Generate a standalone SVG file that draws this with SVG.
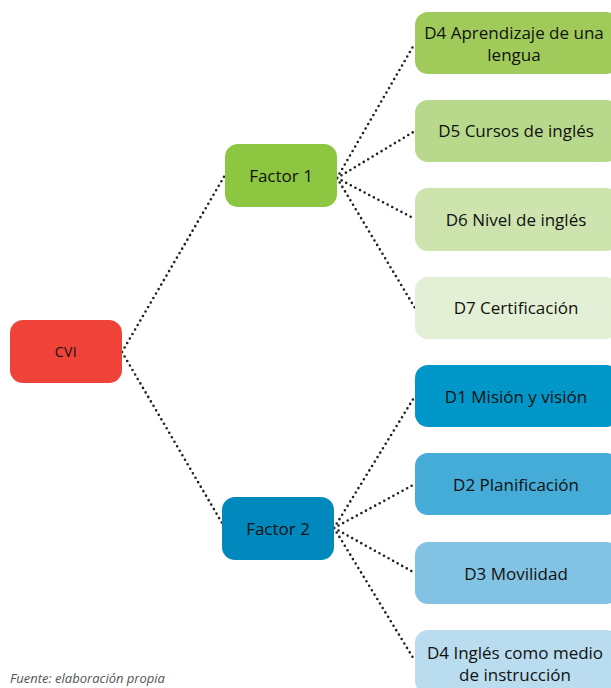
<svg xmlns="http://www.w3.org/2000/svg" width="611" height="688" viewBox="0 0 611 688">
<style>
.t{font-family:"Open Sans","Noto Sans","Liberation Sans",sans-serif;font-size:17px;fill:#111;text-anchor:middle}
.c{fill:none;stroke:#231f20;stroke-width:2.6;stroke-linecap:round;stroke-dasharray:0 5.2}
</style>
<rect width="611" height="688" fill="#fff"/>
<g id="connectors">
<path class="c" d="M122 352 L225 175"/>
<path class="c" d="M122 352 L222 523"/>
<path class="c" d="M337 178 L415 43"/>
<path class="c" d="M337 178 L415 131"/>
<path class="c" d="M337 178 L415 219"/>
<path class="c" d="M337 178 L415 308"/>
<path class="c" d="M334 528 L415 396"/>
<path class="c" d="M334 528 L415 484"/>
<path class="c" d="M334 528 L415 573"/>
<path class="c" d="M334 528 L415 661"/>
</g>
<g id="cvi"><rect x="10" y="320" width="112" height="63" rx="13" fill="#ef4238"/><text class="t" x="66" y="357" style="font-size:14px;font-weight:500;letter-spacing:0.5px">CVI</text></g>
<g id="factor1"><rect x="225" y="144" width="112" height="63" rx="13" fill="#8dc641"/><text class="t" x="281" y="182">Factor 1</text></g>
<g id="factor2"><rect x="222" y="497" width="112" height="63" rx="13" fill="#0189be"/><text class="t" x="278" y="535">Factor 2</text></g>
<g id="d4a"><rect x="415" y="12" width="204" height="62" rx="13" fill="#a0cb5b"/><text class="t" x="514" y="39">D4 Aprendizaje de una</text><text class="t" x="514" y="61">lengua</text></g>
<g id="d5"><rect x="415" y="100" width="204" height="62" rx="13" fill="#b8d98b"/><text class="t" x="516" y="137">D5 Cursos de inglés</text></g>
<g id="d6"><rect x="415" y="188" width="204" height="63" rx="13" fill="#cde4ae"/><text class="t" x="516" y="226">D6 Nivel de inglés</text></g>
<g id="d7"><rect x="415" y="277" width="204" height="62" rx="13" fill="#e4f0d5"/><text class="t" x="516" y="314">D7 Certificación</text></g>
<g id="d1"><rect x="415" y="365" width="204" height="62" rx="13" fill="#0297c9"/><text class="t" x="516" y="403">D1 Misión y visión</text></g>
<g id="d2"><rect x="415" y="453" width="204" height="62" rx="13" fill="#44acd6"/><text class="t" x="516" y="491">D2 Planificación</text></g>
<g id="d3"><rect x="415" y="542" width="204" height="62" rx="13" fill="#82c3e3"/><text class="t" x="516" y="580">D3 Movilidad</text></g>
<g id="d4b"><rect x="415" y="630" width="204" height="64" rx="13" fill="#b9dcee"/><text class="t" x="515" y="659">D4 Inglés como medio</text><text class="t" x="515" y="681">de instrucción</text></g>
<text x="10" y="683" style="font-family:'Open Sans','Noto Sans',sans-serif;font-style:italic;font-size:13px;fill:#555">Fuente: elaboración propia</text>
</svg>
